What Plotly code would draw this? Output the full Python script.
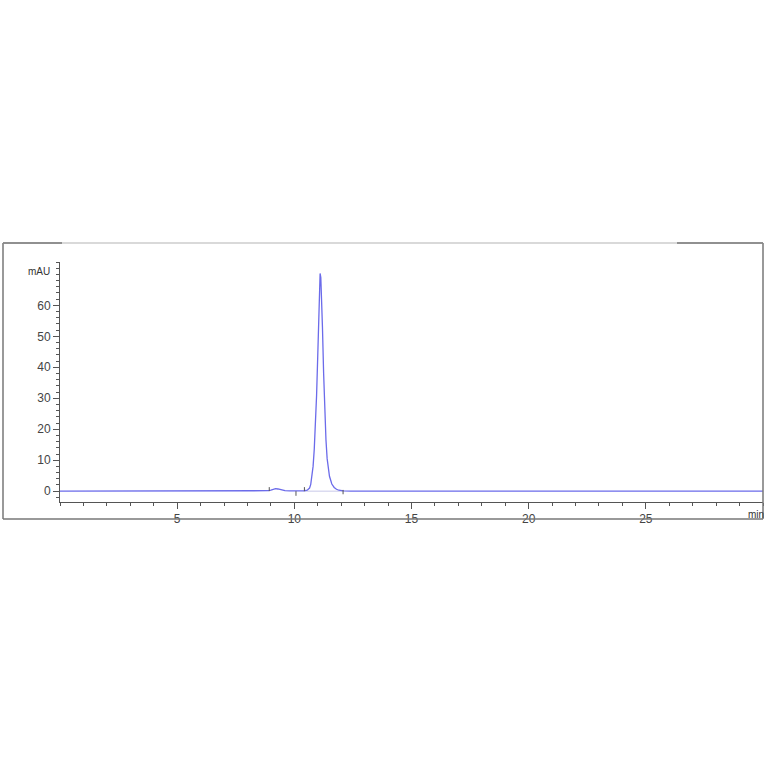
import plotly.graph_objects as go

# Chromatogram trace (time in min, absorbance in mAU)
time_min = [0.0, 3.0, 6.0, 6.8, 7.2, 7.6, 8.0, 8.4, 8.8, 8.9, 9.0, 9.1, 9.2, 9.3, 9.4, 9.5, 9.6, 9.8, 10.0,
            10.4, 10.55, 10.65, 10.7, 10.75, 10.8, 10.85, 10.9, 10.95, 11.0, 11.04, 11.07, 11.1, 11.13,
            11.16, 11.2, 11.25, 11.3, 11.35, 11.4, 11.5, 11.6, 11.7, 11.8, 11.9, 12.1, 12.4, 15.0, 20.0,
            25.0, 30.0]
signal_mau = [0.0, 0.0, 0.0, 0.05, 0.1, 0.05, 0.1, 0.15, 0.1, 0.15, 0.3, 0.6, 0.8, 0.7, 0.45, 0.25, 0.15, 0.1, 0.05,
              0.1, 0.3, 1.0, 2.2, 4.5, 8.0, 13.5, 21.0, 31.0, 44.0, 56.0, 65.0, 70.3, 69.0,
              64.0, 53.0, 38.0, 25.5, 16.5, 10.5, 4.8, 2.3, 1.2, 0.6, 0.3, 0.1, 0.0, 0.0, 0.0,
              0.0, 0.0]

# Integration baseline under the main peak
baseline_t = [10.4, 12.1]
baseline_v = [0.0, 0.0]

# Integration event markers (time, low, high)
event_t = [8.93, 10.07, 10.43, 12.08]
event_lo = [0.0, -1.5, 0.0, -1.0]
event_hi = [1.3, 0.0, 1.3, 0.4]

x_ticks = [5, 10, 15, 20, 25]
y_ticks = [0, 10, 20, 30, 40, 50, 60]

ev_x, ev_y = [], []
for t, lo, hi in zip(event_t, event_lo, event_hi):
    ev_x += [t, t, None]
    ev_y += [lo, hi, None]

fig = go.Figure()
fig.add_trace(go.Scatter(x=baseline_t, y=baseline_v, mode="lines",
                         line=dict(color="#c8c8e8", width=1), hoverinfo="skip"))
fig.add_trace(go.Scatter(x=time_min, y=signal_mau, mode="lines",
                         line=dict(color="#6b6bea", width=1.3)))
fig.add_trace(go.Scatter(x=ev_x, y=ev_y, mode="lines",
                         line=dict(color="#555555", width=1), hoverinfo="skip"))

fnt = dict(family="Liberation Sans, Arial, sans-serif", size=12, color="#444444")

fig.update_layout(
    width=764, height=764,
    margin=dict(l=60, r=1, t=262, b=262),
    paper_bgcolor="white", plot_bgcolor="white",
    showlegend=False,
    font=fnt,
    xaxis=dict(range=[0, 30], tickvals=x_ticks, ticks="outside", ticklen=6, tickcolor="#555",
               showline=True, linecolor="#555", linewidth=1, showgrid=False, zeroline=False,
               tickfont=fnt,
               minor=dict(dtick=1, ticks="outside", ticklen=3, tickcolor="#555")),
    yaxis=dict(range=[-3.5, 74], tickvals=y_ticks, ticks="outside", ticklen=6, tickcolor="#555",
               showline=True, linecolor="#555", linewidth=1, showgrid=False, zeroline=False,
               tickfont=fnt,
               minor=dict(dtick=2, ticks="outside", ticklen=3, tickcolor="#555")),
    annotations=[
        dict(text="mAU", xref="paper", yref="paper", x=-0.012, y=0.96, xanchor="right",
             yanchor="middle", showarrow=False, font=dict(family=fnt["family"], size=10, color="#333")),
        dict(text="min", xref="paper", yref="paper", x=1.004, y=-0.05, xanchor="right",
             yanchor="middle", showarrow=False, font=dict(family=fnt["family"], size=10, color="#333")),
    ],
)

# Outer frame (screen pixel positions converted to paper coordinates)
def px_x(p):
    return (p - 60) / 703.0

def px_y(p):
    return (502 - p) / 240.0

frame = []
frame.append(dict(x0=px_x(3), x1=px_x(3), y0=px_y(519), y1=px_y(243), color="#777", w=1.5))
frame.append(dict(x0=px_x(763), x1=px_x(763), y0=px_y(519), y1=px_y(243), color="#777", w=1.5))
frame.append(dict(x0=px_x(3), x1=px_x(763), y0=px_y(519), y1=px_y(519), color="#777", w=1.5))
frame.append(dict(x0=px_x(3), x1=px_x(763), y0=px_y(243), y1=px_y(243), color="#cccccc", w=1.5))
frame.append(dict(x0=px_x(3), x1=px_x(62), y0=px_y(243), y1=px_y(243), color="#777", w=1.5))
frame.append(dict(x0=px_x(677), x1=px_x(763), y0=px_y(243), y1=px_y(243), color="#777", w=1.5))
for f in frame:
    fig.add_shape(type="line", xref="paper", yref="paper", x0=f["x0"], x1=f["x1"],
                  y0=f["y0"], y1=f["y1"], line=dict(color=f["color"], width=f["w"]))

fig.write_html("out.html", config={"displayModeBar": False},
               post_script="document.body.style.margin='0';document.body.style.overflow='hidden';")
